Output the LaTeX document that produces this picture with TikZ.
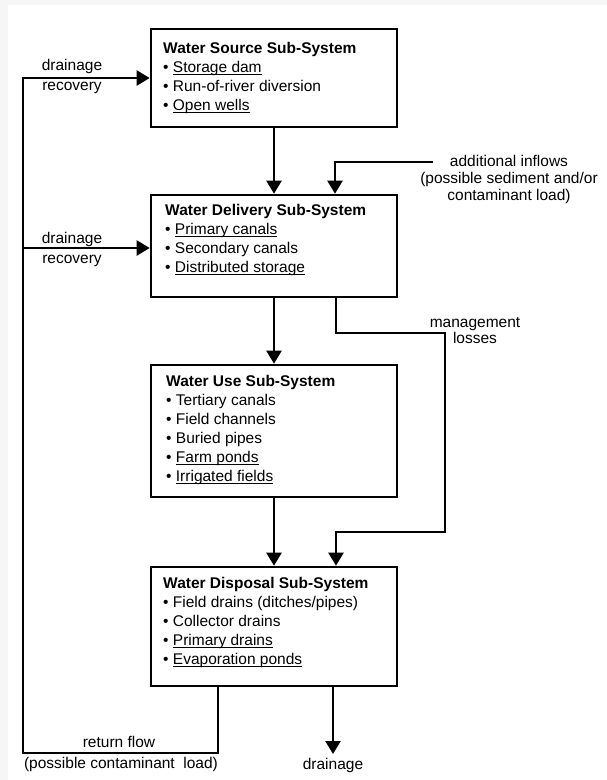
\documentclass[tikz,border=0pt]{standalone}
\usepackage{fontspec}
\setmainfont{Liberation Sans}
\usetikzlibrary{arrows.meta}
\newcommand\myul[1]{\setbox0\hbox{#1}\rlap{\rule[-2.6pt]{\wd0}{0.9pt}}\box0}
\begin{document}
\begin{tikzpicture}[x=1pt,y=-1pt,
  box/.style={draw, line width=2.6pt, rectangle, minimum width=246pt, inner sep=0pt},
  boxtext/.style={anchor=north west, inner sep=0pt, align=left, font=\fontsize{15.5}{19}\selectfont},
  lbl/.style={inner sep=0pt, anchor=base, font=\fontsize{15.5}{18}\selectfont},
  conn/.style={line width=2.4pt, line join=miter},
  arr/.style={conn, -{Triangle[length=13pt,width=15pt]}}]
\useasboundingbox (0,0) rectangle (607,780);
\fill[gray!7] (0,0) rectangle (607,780);
\fill[white] (8,5) rectangle (607,780);

% boxes
\node[box, minimum height=98pt] (src) at (274,78) {};
\node[box, minimum height=102pt] (del) at (274,246) {};
\node[box, minimum height=132pt] (use) at (274,431) {};
\node[box, minimum height=119pt] (dis) at (274,626.5) {};

\node[boxtext] (srct) at (163,41.7) {\textbf{Water Source Sub-System}\\ • \myul{Storage dam}\\ • Run-of-river diversion\\ • \myul{Open wells}};
\node[boxtext] (delt) at (165,203.7) {\textbf{Water Delivery Sub-System}\\ • \myul{Primary canals}\\ • Secondary canals\\ • \myul{Distributed storage}};
\node[boxtext] (uset) at (166,374.7) {\textbf{Water Use Sub-System}\\ • Tertiary canals\\ • Field channels\\ • Buried pipes\\ • \myul{Farm ponds}\\ • \myul{Irrigated fields}};
\node[boxtext] (dist) at (163,576.7) {\textbf{Water Disposal Sub-System}\\ • Field drains (ditches/pipes)\\ • Collector drains\\ • \myul{Primary drains}\\ • \myul{Evaporation ponds}};

% labels
\node[lbl] (dr1a) at (72,70) {drainage};
\node[lbl] (dr1b) at (72,90) {recovery};
\node[lbl] (dr2a) at (72,243) {drainage};
\node[lbl] (dr2b) at (72,263) {recovery};
\node[lbl] (inf1) at (509,166) {additional inflows};
\node[lbl] (inf2) at (509,183) {(possible sediment and/or};
\node[lbl] (inf3) at (509,200) {contaminant load)};
\node[lbl] (mg1) at (475,327) {management};
\node[lbl] (mg2) at (475,343) {losses};
\node[lbl] (rf1) at (119,747) {return flow};
\node[lbl] (rf2) at (121,768) {(possible contaminant\ \ load)};
\node[lbl] (drn) at (333,769) {drainage};

% coordinates
\coordinate (infE) at (433,162);
\coordinate (infB) at (335,162);
\coordinate (m1) at (336,333);
\coordinate (m2) at (445,333);
\coordinate (m3) at (445,532);
\coordinate (m4) at (336,532);
\coordinate (r1) at (218,753);
\coordinate (r2) at (23,753);
\coordinate (r3) at (23,78);
\coordinate (r4) at (23,248);
\coordinate (d1) at (333,754);

% connectors
\draw[arr] (src.south) -- (del.north);
\draw[arr] (del.south) -- (use.north);
\draw[arr] (use.south) -- (dis.north);
\draw[arr] (infE) -- (infB) -- (infB |- del.north);
\draw[arr] (m1 |- del.south) -- (m1) -- (m2) -- (m3) -- (m4) -- (m4 |- dis.north);
\draw[arr] (r1 |- dis.south) -- (r1) -- (r2) -- (r3) -- (r3 -| src.west);
\draw[arr] (r4) -- (r4 -| del.west);
\draw[arr] (d1 |- dis.south) -- (d1);
\end{tikzpicture}
\end{document}
